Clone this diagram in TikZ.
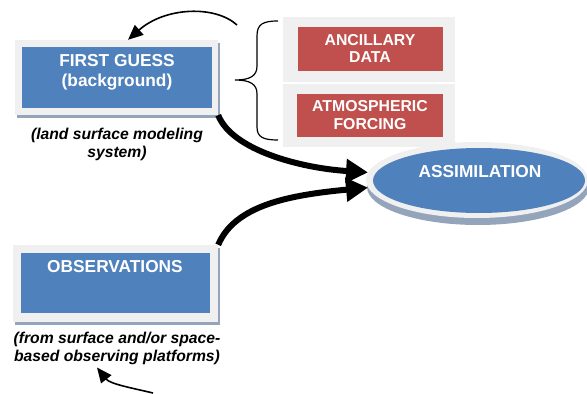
\documentclass[tikz,border=0pt]{standalone}
\usepackage{fontspec}
\setmainfont{Liberation Sans}
\usetikzlibrary{shadows,arrows.meta,calc,shapes.geometric}

\definecolor{boxblue}{HTML}{4F81BD}
\definecolor{boxred}{HTML}{C0504D}
\definecolor{framegray}{HTML}{F0F0F0}
\definecolor{shadowblue}{HTML}{94A4BB}

\tikzset{
  frame/.style={rectangle, inner sep=0pt, fill=framegray, draw=none},
  shadowed/.style={drop shadow={shadow xshift=2pt, shadow yshift=-3pt, fill=shadowblue, opacity=1}},
  bluebox/.style={rectangle, inner sep=0pt, fill=boxblue, draw=none},
  redbox/.style={rectangle, inner sep=0pt, fill=boxred, draw=none},
  boxtext/.style={text=white, align=center, inner sep=0pt,
    font=\bfseries\fontsize{17.3}{20}\selectfont},
  redtext/.style={text=white, align=center, inner sep=0pt,
    font=\bfseries\fontsize{15.8}{17.5}\selectfont},
  caption/.style={text=black, align=center, inner sep=0pt,
    font=\bfseries\itshape\fontsize{15.7}{18}\selectfont},
  thinarrow/.style={line width=1.6pt, -{Triangle[length=15pt,width=13pt]}},
  thickarrow/.style={line width=6pt, -{Triangle[length=22pt,width=23pt]}},
}

\begin{document}
\begin{tikzpicture}[x=1pt,y=-1pt]
\useasboundingbox (0,0) rectangle (587,394);
\clip (0,0) rectangle (587,394);

% first guess block
\node[frame, shadowed, minimum width=203pt, minimum height=75pt] (fgframe) at (116.5,77.5) {};
\node[bluebox, minimum width=190pt, minimum height=61pt] (fgbox) at (117,77.5) {};
\node[boxtext] (fgtext) at (117,72) {FIRST GUESS\\(background)};
\node[caption] (fgcap) at (117,144) {(land surface modeling\\system)};

% ancillary data and atmospheric forcing
\node[frame, minimum width=172pt, minimum height=65pt] (ancframe) at (369,49.5) {};
\node[redbox, minimum width=145pt, minimum height=44pt] (ancbox) at (370.5,49) {};
\node[redtext] (anctext) at (370,48.5) {ANCILLARY\\DATA};
\node[frame, minimum width=172pt, minimum height=63pt] (atmframe) at (369,115.5) {};
\node[redbox, minimum width=146pt, minimum height=43pt] (atmbox) at (370,115.5) {};
\node[redtext] (atmtext) at (370,115) {ATMOSPHERIC\\FORCING};

% brace grouping the two inputs
\draw[line width=1.2pt]
  (278,21) .. controls (263,21) and (257,24) .. (257,36) -- (257,66)
  .. controls (257,76) and (250,80) .. (235,80)
  .. controls (250,80) and (257,84) .. (257,94) -- (257,127)
  .. controls (257,137) and (263,140) .. (278,140);

% assimilation disk
\node[ellipse, inner sep=0pt, fill=framegray,
  drop shadow={shadow xshift=1pt, shadow yshift=-7pt, fill=shadowblue, opacity=1},
  minimum width=222pt, minimum height=76pt] (asmframe) at (477,180) {};
\node[ellipse, inner sep=0pt, fill=boxblue, minimum width=212pt, minimum height=65pt] (asmcore) at (479,180.5) {};
\node[boxtext] (asmtext) at (480,172) {ASSIMILATION};

% observations block
\node[frame, shadowed, minimum width=205pt, minimum height=77pt] (obsframe) at (115.5,283.5) {};
\node[bluebox, minimum width=189pt, minimum height=60pt] (obsbox) at (115.5,283) {};
\node[boxtext] (obstext) at (115,267) {OBSERVATIONS};
\node[caption] (obscap) at (117,348) {(from surface and/or space-\\based observing platforms)};

% connectors
\coordinate (topfrom) at (237,25);
\coordinate (obsfrom) at (153,393);
\draw[thinarrow] (topfrom) .. controls (215,5) and (165,7) .. (fgframe.73);
\draw[thinarrow] (obsfrom) .. controls (132,388) and (110,384) .. ($(obscap.south)+(-20,3)$);
\draw[thickarrow] (fgframe.south east) .. controls (232,150) and (300,168) .. (asmframe.176);
\draw[thickarrow] (obsframe.north east) .. controls (235,205) and (290,195) .. (asmframe.184);
\end{tikzpicture}
\end{document}
